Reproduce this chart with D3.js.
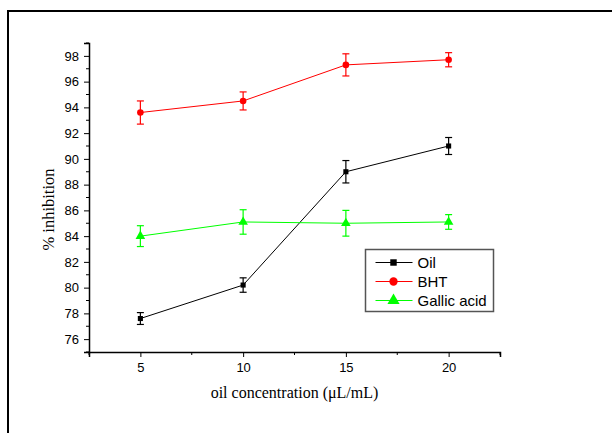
<!DOCTYPE html>
<html>
<head>
<meta charset="utf-8">
<script src="https://cdn.jsdelivr.net/npm/d3@7"></script>
<style>
  body { margin: 0; background: #fff; }
  svg { display: block; }
  .tick text { font-family: "Liberation Sans", Arial, sans-serif; font-size: 13px; fill: #000; }
</style>
</head>
<body>
<svg id="chart"></svg>
<script>
// values
const concentrations = [5, 10, 15, 20];
const oilValues = [77.6, 80.2, 89.0, 91.0];
const oilErrors = [0.46, 0.56, 0.87, 0.66];
const bhtValues = [93.6, 94.5, 97.3, 97.7];
const bhtErrors = [0.9, 0.7, 0.86, 0.55];
const gallicValues = [84.0, 85.1, 85.0, 85.1];
const gallicErrors = [0.81, 0.95, 1.0, 0.57];
const seriesNames = ["Oil", "BHT", "Gallic acid"];
const xTicks = [5, 10, 15, 20];
const yTicks = [76, 78, 80, 82, 84, 86, 88, 90, 92, 94, 96, 98];

const width = 612, height = 433;
const margin = { top: 43, right: 112, bottom: 81, left: 89 };

const series = [
  { name: seriesNames[0], values: oilValues, errors: oilErrors, color: "#000000", symbol: d3.symbolSquare, size: 26 },
  { name: seriesNames[1], values: bhtValues, errors: bhtErrors, color: "#ff0000", symbol: d3.symbolCircle, size: 34 },
  { name: seriesNames[2], values: gallicValues, errors: gallicErrors, color: "#00ff00", symbol: d3.symbolTriangle, size: 40 }
];

const svg = d3.select("#chart").attr("width", width).attr("height", height);

// outer frame
svg.append("path")
  .attr("d", `M8,${height} V11 H${width}`)
  .attr("fill", "none").attr("stroke", "#000").attr("stroke-width", 2);

const x = d3.scaleLinear().domain([2.5, 22.5]).range([margin.left, width - margin.right]);
const y = d3.scaleLinear().domain([75, 99]).range([height - margin.bottom, margin.top]);

// minor ticks
const xMinor = [2.5, 7.5, 12.5, 17.5, 22.5];
const yMinor = d3.range(75, 100, 2);

const gx = svg.append("g").attr("transform", `translate(0,${y(75)})`);
gx.call(d3.axisBottom(x).tickValues(xTicks).tickSize(5).tickPadding(6));
gx.append("g").selectAll("line").data(xMinor).join("line")
  .attr("x1", d => x(d)).attr("x2", d => x(d)).attr("y1", 0).attr("y2", 3)
  .attr("stroke", "#000");

const gy = svg.append("g").attr("transform", `translate(${x(2.5)},0)`);
gy.call(d3.axisLeft(y).tickValues(yTicks).tickSize(5).tickPadding(5));
gy.append("g").selectAll("line").data(yMinor).join("line")
  .attr("y1", d => y(d)).attr("y2", d => y(d)).attr("x1", 0).attr("x2", -3)
  .attr("stroke", "#000");

svg.selectAll(".domain").attr("stroke", "#000").attr("stroke-width", 1.5);
svg.selectAll(".tick line").attr("stroke", "#000");

// axis titles
svg.append("text")
  .attr("x", (x(2.5) + x(22.5)) / 2).attr("y", 398)
  .attr("text-anchor", "middle")
  .style("font-family", "'Liberation Serif', 'Times New Roman', serif")
  .style("font-size", "16px")
  .text("oil concentration (\u03bcL/mL)");

svg.append("text")
  .attr("transform", `translate(54,${(y(75) + y(99)) / 2 + 12}) rotate(-90)`)
  .attr("text-anchor", "middle")
  .style("font-family", "'Liberation Serif', 'Times New Roman', serif")
  .style("font-size", "16.5px")
  .text("% inhibition");

const line = d3.line().x((d, i) => x(concentrations[i])).y(d => y(d));

series.forEach(s => {
  const g = svg.append("g");
  g.append("path").datum(s.values)
    .attr("d", line).attr("fill", "none")
    .attr("stroke", s.color).attr("stroke-width", 1);

  // error bars
  const eb = g.selectAll("g.err").data(s.values).join("g").attr("class", "err");
  eb.append("line")
    .attr("x1", (d, i) => x(concentrations[i])).attr("x2", (d, i) => x(concentrations[i]))
    .attr("y1", (d, i) => y(d - s.errors[i])).attr("y2", (d, i) => y(d + s.errors[i]))
    .attr("stroke", s.color).attr("stroke-width", 1.2);
  [-1, 1].forEach(sign => {
    eb.append("line")
      .attr("x1", (d, i) => x(concentrations[i]) - 3.5).attr("x2", (d, i) => x(concentrations[i]) + 3.5)
      .attr("y1", (d, i) => y(d + sign * s.errors[i])).attr("y2", (d, i) => y(d + sign * s.errors[i]))
      .attr("stroke", s.color).attr("stroke-width", 1.2);
  });

  g.selectAll("path.mark").data(s.values).join("path").attr("class", "mark")
    .attr("transform", (d, i) => `translate(${x(concentrations[i])},${y(d)})`)
    .attr("d", d3.symbol().type(s.symbol).size(s.size))
    .attr("fill", s.color);
});

// legend
const legend = svg.append("g").attr("transform", "translate(365.5,249.5)");
legend.append("rect")
  .attr("width", 128).attr("height", 62)
  .attr("fill", "#fff").attr("stroke", "#555").attr("stroke-width", 1.5);
series.forEach((s, i) => {
  const ly = 13 + i * 19;
  legend.append("line").attr("x1", 10).attr("x2", 47).attr("y1", ly).attr("y2", ly)
    .attr("stroke", s.color).attr("stroke-width", 1);
  legend.append("path").attr("transform", `translate(28,${ly})`)
    .attr("d", d3.symbol().type(s.symbol).size(s.size * 1.6))
    .attr("fill", s.color);
  legend.append("text").attr("x", 52).attr("y", ly + 5.5)
    .style("font-family", "'Liberation Sans', Arial, sans-serif")
    .style("font-size", "15px")
    .text(s.name);
});
</script>
</body>
</html>
